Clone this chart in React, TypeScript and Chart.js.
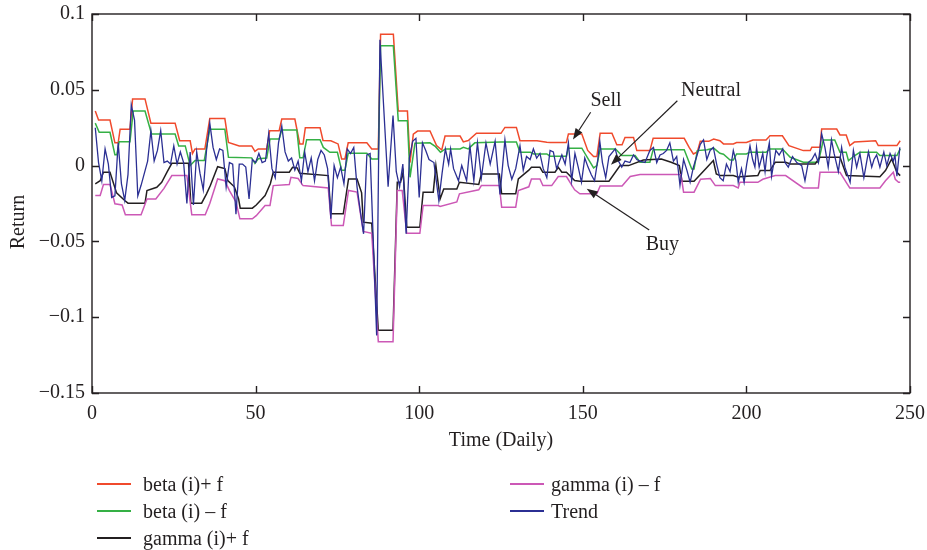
import React, { useEffect, useRef } from "react";
import { Chart, registerables } from "chart.js";

Chart.register(...registerables);

const FONT = "'Liberation Serif', 'DejaVu Serif', 'Times New Roman', serif";
const INK = "#231f20";

// ---- data: [day, return] vertices ----
const betaPlus: [number, number][] = [[1,0.036],[2,0.030],[5.5,0.030],[7,0.015],[8,0.015],[8.6,0.024],[11.6,0.024],[12.4,0.044],[16.2,0.044],[18,0.028],[25.4,0.028],[26.8,0.0164],[30,0.0164],[30.7,0.008],[31.5,0.011],[34.5,0.011],[36,0.031],[40.6,0.031],[41.7,0.0153],[45,0.013],[48.8,0.013],[49.8,0.0094],[50.8,0.011],[53.4,0.011],[54.3,0.023],[57.2,0.023],[58,0.0307],[62,0.0307],[63.5,0.0143],[64.5,0.0143],[65.2,0.025],[69.7,0.025],[70.6,0.0166],[73,0.0164],[75.2,0.0143],[76.3,0.0044],[77.3,0.0044],[78.3,0.015],[84,0.015],[85.5,0.011],[87.5,0.011],[88.2,0.0866],[92.1,0.0866],[93.6,0.036],[96.4,0.036],[97.2,0.002],[98.2,0.0208],[99.5,0.0228],[103.3,0.0228],[105.3,0.0132],[106.9,0.0103],[107.9,0.0195],[112.5,0.0195],[113.5,0.0156],[115,0.0165],[117.5,0.0213],[125,0.0213],[126.2,0.0252],[129.7,0.0252],[130.8,0.0164],[136,0.0164],[139,0.0154],[140,0.0153],[145,0.0153],[145.6,0.0208],[149.7,0.0208],[151.5,0.010],[153.3,0.006],[154.3,0.006],[155.3,0.0213],[158.9,0.0213],[160.4,0.0138],[162,0.0138],[162.9,0.0186],[165.5,0.0186],[166.5,0.0099],[170.5,0.0099],[171.5,0.018],[181,0.018],[182.5,0.012],[183.8,0.0077],[185,0.009],[185.9,0.016],[188.5,0.016],[190,0.0175],[191.9,0.0164],[193,0.0143],[196,0.0143],[197,0.0152],[200,0.0152],[202,0.0169],[206,0.0169],[207.2,0.0197],[211,0.0197],[213,0.0132],[217.4,0.0099],[219.5,0.0099],[220,0.0121],[222.5,0.0121],[223,0.0241],[227.6,0.0241],[228.6,0.0202],[230.5,0.0202],[231.6,0.0132],[233,0.0155],[239.5,0.0164],[240.3,0.0132],[246,0.0132],[247,0.0164]];

const betaMinus: [number, number][] = [[1,0.028],[2.2,0.022],[5.5,0.022],[7,0.0072],[7.6,0.0072],[8.3,0.0158],[11.6,0.0158],[12.6,0.036],[16.2,0.036],[18.2,0.0208],[25.4,0.0208],[26.5,0.013],[28.5,0.013],[30,0.0],[31.5,0.0033],[34.3,0.0033],[36,0.024],[40.6,0.024],[41.7,0.0055],[48.8,0.0051],[49.8,0.0015],[50.8,0.0045],[53.4,0.005],[54.4,0.0175],[57.2,0.0175],[58,0.0235],[62.6,0.0235],[63.5,0.0051],[64.5,0.0051],[65.6,0.0171],[69.7,0.0171],[70.7,0.012],[72.7,0.0088],[75,0.0088],[76.3,-0.003],[77.3,-0.003],[78.3,0.0081],[84,0.0081],[85.5,0.0044],[87.5,0.0044],[88.2,0.079],[92.1,0.079],[93.6,0.0296],[96.4,0.0296],[97.2,-0.0077],[98.7,0.0147],[103.3,0.015],[105,0.0125],[106.5,0.0088],[108,0.011],[112.5,0.011],[113.5,0.012],[115,0.011],[117,0.015],[125,0.0155],[129.7,0.0155],[130.8,0.0088],[134,0.0088],[135,0.0077],[139,0.0077],[140,0.0062],[145,0.0062],[145.6,0.0115],[149.7,0.0115],[151.5,0.005],[153.3,-0.0015],[154.3,0.0],[155.3,0.011],[160,0.011],[161.9,0.0066],[166,0.0066],[167.5,0.0022],[170.5,0.0022],[171.5,0.0105],[181,0.0105],[183.3,-0.0022],[184,-0.0022],[185,0.0099],[188,0.0105],[190,0.0115],[191.9,0.0081],[193,0.0075],[195,0.0037],[196,0.0037],[197,0.0077],[200,0.0077],[201,0.0088],[206,0.0088],[207.2,0.011],[211,0.011],[213.4,0.0055],[217.4,0.0022],[222,0.0022],[223.5,0.0169],[227,0.0169],[228.6,0.0088],[230.5,0.0088],[231.2,0.0033],[233,0.0065],[234.7,0.0088],[239.8,0.0088],[240.8,0.0066],[246,0.0066],[247,0.011]];

const gammaPlus: [number, number][] = [[1,-0.012],[2.5,-0.010],[3.5,-0.0044],[5.5,-0.0044],[7.5,-0.018],[10,-0.023],[11,-0.0248],[16.2,-0.0248],[16.8,-0.0164],[19.8,-0.0143],[21.3,-0.011],[23,-0.004],[24.4,0.0015],[29.5,0.0015],[30.2,-0.0248],[33.5,-0.0248],[35,-0.0186],[36.2,-0.013],[38.4,-0.0007],[40.6,-0.002],[41.5,-0.0099],[43.5,-0.014],[44.8,-0.022],[45.3,-0.0281],[49,-0.0281],[50.2,-0.026],[52.9,-0.0197],[54.5,-0.012],[55.4,-0.0044],[60.3,-0.0044],[61.3,-0.0011],[62.7,-0.0015],[63.5,-0.0051],[72.2,-0.0066],[73,-0.0318],[76.8,-0.0318],[78.4,-0.0088],[81,-0.0088],[82.4,-0.018],[82.9,-0.0373],[85.5,-0.038],[87.5,-0.1086],[92,-0.1086],[93.3,-0.011],[94.3,-0.011],[95.1,-0.0042],[96.2,-0.0406],[100.2,-0.0406],[101.2,-0.0175],[104.3,-0.0175],[105.1,0.0],[106.4,-0.0219],[107.5,-0.0154],[111.5,-0.0154],[112.3,-0.011],[118.2,-0.0125],[119,-0.0055],[124.5,-0.0055],[125.2,-0.0186],[129.5,-0.0186],[130.3,-0.0088],[133.5,-0.003],[134.3,-0.0011],[136.9,-0.0011],[137.8,-0.0044],[141.5,-0.0044],[142.5,-0.0011],[143.6,-0.0044],[145,-0.0044],[147.5,-0.0099],[149.1,-0.0103],[158,-0.0103],[161.4,0.0],[164,0.0],[168.5,0.0037],[174,0.0044],[177,0.0022],[179.5,0.0],[180.3,-0.0103],[184,-0.0103],[188,-0.0011],[189.9,0.0033],[190.8,-0.0055],[191.9,-0.0066],[196,-0.0066],[197.5,-0.0077],[198,-0.0073],[203.5,-0.0066],[204.2,-0.0033],[207.2,-0.0033],[208.8,0.0022],[212,0.0022],[213.4,0.0011],[221,0.0011],[222.5,0.0055],[228.6,0.0055],[230.6,-0.0066],[240.8,-0.0073],[242.5,-0.0033],[244.4,0.0044],[246,-0.0044],[247,-0.0066]];

const gammaMinus: [number, number][] = [[1,-0.0197],[2.5,-0.0197],[3.5,-0.0125],[5.5,-0.0125],[7,-0.0252],[9.2,-0.026],[10.2,-0.0324],[15,-0.0324],[16.8,-0.022],[19.5,-0.022],[22,-0.015],[24.4,-0.0066],[29,-0.0066],[30.5,-0.0324],[34.6,-0.0324],[36,-0.025],[38.4,-0.0088],[40.6,-0.010],[42,-0.0165],[44,-0.024],[45.2,-0.0351],[49,-0.0351],[50.2,-0.033],[52.9,-0.0263],[54.4,-0.0263],[55.4,-0.0132],[60.3,-0.0125],[60.8,-0.0077],[63,-0.0085],[64.5,-0.0132],[72.2,-0.0147],[73.2,-0.0395],[76.8,-0.0395],[78.4,-0.0164],[81,-0.0175],[82.9,-0.0434],[85.5,-0.0447],[87.5,-0.1162],[92,-0.1162],[93.3,-0.0164],[94.8,-0.0164],[96.2,-0.0447],[100.2,-0.0447],[101.2,-0.0263],[105.8,-0.0263],[106.4,-0.027],[111.5,-0.024],[112.3,-0.0186],[118.2,-0.016],[119,-0.0132],[124.5,-0.0132],[125.2,-0.0274],[129.5,-0.0274],[130.3,-0.0164],[133.5,-0.014],[134.3,-0.0088],[136.9,-0.0088],[137.8,-0.0132],[140.5,-0.0132],[142.5,-0.0072],[145,-0.0072],[147.5,-0.016],[149.1,-0.0186],[154.3,-0.0186],[155.3,-0.0134],[162,-0.0134],[164.5,-0.0072],[167.5,-0.0059],[180,-0.0059],[180.8,-0.0175],[184,-0.0175],[186,-0.009],[189,-0.0085],[190.5,-0.0132],[196,-0.0132],[197.5,-0.0147],[198,-0.011],[203.5,-0.011],[205,-0.009],[208.8,-0.0066],[212,-0.0066],[217.4,-0.0147],[222,-0.0147],[222.5,-0.0044],[228.6,-0.0044],[230.5,-0.011],[231.6,-0.0147],[240.8,-0.0147],[242.5,-0.01],[244.9,-0.0044],[245.5,-0.009],[246.5,-0.011],[247,-0.011]];

const trend: [number, number][] = [[1,0.025],[2,0.002],[3,-0.010],[4,0.011],[5,0.001],[6,-0.021],[7,-0.020],[8,0.015],[9,-0.012],[10,-0.023],[11,-0.006],[12,0.040],[13,0.030],[14,-0.020],[15,-0.013],[17,0.003],[18,0.023],[19,0.003],[20,0.010],[21,0.023],[22,0.002],[23,0.003],[24,0.001],[25,0.013],[26,0.001],[27,0.009],[28,0.002],[29,-0.025],[30,0.009],[31,-0.026],[32,0.009],[33,-0.005],[34,-0.016],[35,0.010],[36,0.028],[37,0.012],[38,0.004],[39,0.011],[40,0.010],[41,-0.014],[42,0.002],[43,0.001],[44,-0.032],[45,0.001],[46,0.001],[47,-0.001],[48,-0.022],[49,0.004],[50,0.002],[51,0.008],[52,0.002],[53,0.003],[54,0.021],[55,-0.002],[56,-0.008],[57,0.015],[58,0.026],[59,0.009],[60,0.003],[61,0.005],[62,-0.003],[63,0.003],[64,-0.010],[65,0.009],[66,-0.004],[67,0.005],[68,-0.010],[69,0.004],[70,0.010],[71,0.007],[72,-0.002],[73,-0.035],[74,0.000],[75,-0.008],[76,-0.001],[77,-0.012],[78,0.011],[79,0.008],[80,0.012],[81,-0.014],[82,-0.030],[83,-0.045],[84,0.007],[85,0.008],[87,-0.112],[88,0.083],[90.5,-0.014],[92,0.033],[93,-0.004],[94,-0.014],[95,0.001],[96,-0.045],[97,0.005],[98,0.016],[99,0.018],[100,-0.021],[101,0.015],[102,0.010],[103,0.004],[104.5,0.002],[106,-0.023],[107,-0.005],[108,0.011],[109,0.001],[109.6,0.011],[110.5,-0.002],[112,-0.010],[113,0.000],[114.5,-0.010],[115.5,0.013],[116.7,-0.010],[117.8,0.015],[119,-0.008],[120.4,0.015],[121.7,0.001],[123.2,0.016],[124.7,-0.019],[126.2,0.017],[127.2,0.000],[128.3,-0.009],[129.5,-0.002],[130.8,0.013],[131.8,-0.003],[132.8,0.006],[133.9,0.004],[134.9,0.011],[135.9,0.005],[136.9,0.008],[137.9,-0.002],[139,-0.008],[140,0.010],[141,0.009],[142,-0.002],[143.6,0.007],[144.6,0.001],[145.6,0.015],[146.6,-0.010],[147.6,0.008],[148.6,-0.001],[149.6,-0.011],[150.6,0.005],[151.6,-0.001],[152.6,-0.006],[153.6,-0.010],[154.6,0.004],[155.2,0.016],[156,0.002],[157,-0.008],[158,0.006],[159.9,0.011],[160.9,0.003],[161.9,-0.001],[162.9,0.003],[164.4,0.002],[165.5,0.007],[166.5,0.004],[167.5,0.003],[169,0.002],[170.5,0.010],[171.6,0.012],[172.6,0.002],[173.6,0.007],[174.6,0.008],[175.6,0.010],[176.6,0.015],[177.7,0.003],[178.7,0.006],[179.7,-0.013],[180.8,0.004],[181.8,-0.003],[182.8,-0.011],[183.8,-0.001],[184.8,0.006],[185.9,0.014],[186.9,0.017],[187.9,0.004],[188.9,0.010],[189.9,0.012],[190.9,0.001],[191.9,-0.008],[192.9,-0.010],[193.9,0.001],[195,-0.004],[196,0.010],[196.8,0.003],[197.5,-0.011],[198.5,-0.002],[199.3,-0.011],[200.1,0.001],[201.1,0.013],[201.9,0.004],[202.6,-0.001],[203.1,0.012],[203.9,-0.001],[205,0.008],[205.7,-0.004],[206.2,0.006],[207,0.015],[207.7,-0.007],[209,0.010],[210,0.007],[211.1,0.011],[211.8,0.002],[212.8,-0.001],[214.1,0.006],[215.4,0.002],[216.9,0.000],[217.9,-0.010],[218.9,0.002],[220,0.004],[221,0.008],[222,0.002],[223,0.021],[224,0.012],[225,-0.001],[226,0.017],[226.8,0.008],[228.1,-0.004],[229.1,0.012],[230.1,-0.001],[231.7,-0.011],[232.7,0.010],[233.7,-0.001],[234.7,0.008],[235.9,-0.008],[237.3,0.009],[238.3,-0.001],[239,0.004],[239.8,0.007],[240.8,-0.001],[242,0.009],[242.9,0.000],[243.9,0.008],[244.9,0.003],[245.4,0.007],[246,-0.007],[246.9,0.012]];

const seriesNames = ["beta (i)+ f", "beta (i) \u2013 f", "gamma (i)+ f", "gamma (i) \u2013 f", "Trend"];
const seriesColors = ["#f04a2c", "#35b045", "#231f20", "#cc58b6", "#2b2f93"];
const seriesData = [betaPlus, betaMinus, gammaPlus, gammaMinus, trend];

const xTicks = [0, 50, 100, 150, 200, 250];
const yTicks = [0.1, 0.05, 0, -0.05, -0.1, -0.15];
const xTitle = "Time (Daily)";
const yTitle = "Return";

// annotation labels: text centre, arrow start, arrow tip (data units)
const annotations = [
  { label: "Sell", text: [157.1, 0.0428], from: [152.4, 0.0352], to: [147, 0.0172] },
  { label: "Neutral", text: [189.2, 0.0493], from: [178.9, 0.0428], to: [158.6, 0.0006] },
  { label: "Buy", text: [174.3, -0.052], from: [170.3, -0.0425], to: [151.2, -0.0153] },
];

// legend layout: [column, row]
const legendSlots: [number, number][] = [[0, 0], [0, 1], [0, 2], [1, 0], [1, 1]];

const fmtY = (v: number) => {
  const r = Math.round(v * 100) / 100;
  if (r === 0) return "0";
  return (r < 0 ? "\u2212" : "") + String(Math.abs(r));
};

const framePlugin = {
  id: "frameAndNotes",
  afterDraw(chart: any) {
    const { ctx, chartArea: a, scales } = chart;
    const xs = scales.x;
    const ys = scales.y;
    ctx.save();
    ctx.strokeStyle = INK;
    ctx.lineWidth = 1.4;
    ctx.strokeRect(a.left, a.top, a.right - a.left, a.bottom - a.top);
    const L = 7;
    ctx.beginPath();
    xTicks.forEach((v) => {
      const px = Math.round(xs.getPixelForValue(v)) + 0.5;
      ctx.moveTo(px, a.bottom);
      ctx.lineTo(px, a.bottom - L);
      ctx.moveTo(px, a.top);
      ctx.lineTo(px, a.top + L);
    });
    yTicks.forEach((v) => {
      const py = Math.round(ys.getPixelForValue(v)) + 0.5;
      ctx.moveTo(a.left, py);
      ctx.lineTo(a.left + L, py);
      ctx.moveTo(a.right, py);
      ctx.lineTo(a.right - L, py);
    });
    ctx.stroke();

    ctx.fillStyle = INK;
    ctx.font = `20px ${FONT}`;
    ctx.textAlign = "center";
    ctx.textBaseline = "middle";
    ctx.fillText(xTitle, (a.left + a.right) / 2, 441);
    ctx.save();
    ctx.translate(19, 222);
    ctx.rotate(-Math.PI / 2);
    ctx.fillText(yTitle, 0, 0);
    ctx.restore();

    annotations.forEach((an) => {
      const tx = xs.getPixelForValue(an.text[0]);
      const ty = ys.getPixelForValue(an.text[1]);
      ctx.fillText(an.label, tx, ty);
      const x1 = xs.getPixelForValue(an.from[0]);
      const y1 = ys.getPixelForValue(an.from[1]);
      const x2 = xs.getPixelForValue(an.to[0]);
      const y2 = ys.getPixelForValue(an.to[1]);
      const ang = Math.atan2(y2 - y1, x2 - x1);
      const head = 11;
      const hw = 4;
      const bx = x2 - head * Math.cos(ang);
      const by = y2 - head * Math.sin(ang);
      ctx.lineWidth = 1.2;
      ctx.beginPath();
      ctx.moveTo(x1, y1);
      ctx.lineTo(bx, by);
      ctx.stroke();
      ctx.beginPath();
      ctx.moveTo(x2, y2);
      ctx.lineTo(bx + hw * Math.sin(ang), by - hw * Math.cos(ang));
      ctx.lineTo(bx - hw * Math.sin(ang), by + hw * Math.cos(ang));
      ctx.closePath();
      ctx.fill();
    });
    ctx.restore();
  },
};

export default function App() {
  const ref = useRef<HTMLCanvasElement | null>(null);

  useEffect(() => {
    if (!ref.current) return;
    const datasets = seriesData.map((pts, i) => ({
      label: seriesNames[i],
      data: pts.map(([d, v]) => ({ x: d, y: v })),
      borderColor: seriesColors[i],
      backgroundColor: seriesColors[i],
      borderWidth: i === 4 ? 1.3 : 1.5,
      pointRadius: 0,
      tension: 0,
      fill: false,
      order: i === 4 ? 0 : 5 - i,
    }));
    const chart = new Chart(ref.current, {
      type: "line",
      data: { datasets },
      options: {
        responsive: false,
        animation: false,
        devicePixelRatio: 1,
        layout: { padding: { left: 0, right: 17, top: 14, bottom: 0 } },
        plugins: { legend: { display: false }, tooltip: { enabled: false } },
        scales: {
          x: {
            type: "linear",
            min: 0,
            max: 250,
            afterFit: (s: any) => { s.height = 157; s.paddingLeft = 0; s.paddingRight = 0; },
            afterBuildTicks: (s: any) => { s.ticks = xTicks.map((v) => ({ value: v })); },
            grid: { display: false, drawTicks: false },
            border: { display: false },
            ticks: {
              font: { family: FONT, size: 20 },
              color: INK,
              padding: 9,
              maxRotation: 0,
              autoSkip: false,
            },
          },
          y: {
            type: "linear",
            min: -0.15,
            max: 0.1,
            afterFit: (s: any) => { s.width = 92; s.paddingTop = 0; s.paddingBottom = 0; },
            afterBuildTicks: (s: any) => { s.ticks = yTicks.map((v) => ({ value: v })); },
            grid: { display: false, drawTicks: false },
            border: { display: false },
            ticks: {
              font: { family: FONT, size: 20 },
              color: INK,
              padding: 7,
              autoSkip: false,
              callback: (v: any) => fmtY(Number(v)),
            },
          },
        },
      },
      plugins: [framePlugin],
    });
    return () => chart.destroy();
  }, []);

  const colX = [[97, 143], [510, 551]];
  const rowY = [484, 511, 538];

  return (
    <div style={{ position: "fixed", left: 0, top: 0, width: 927, height: 550, background: "#fff", overflow: "hidden" }}>
      <canvas ref={ref} width={927} height={550} style={{ position: "absolute", left: 0, top: 0, width: 927, height: 550 }} />
      {seriesNames.map((name, i) => {
        const [c, r] = legendSlots[i];
        const y = rowY[r];
        return (
          <React.Fragment key={name}>
            <div style={{ position: "absolute", left: colX[c][0], top: y - 1, width: 34, height: 2, background: seriesColors[i] }} />
            <div style={{ position: "absolute", left: colX[c][1], top: y - 12, height: 24, lineHeight: "24px", fontFamily: FONT, fontSize: 20, color: INK, whiteSpace: "nowrap" }}>
              {name}
            </div>
          </React.Fragment>
        );
      })}
    </div>
  );
}
